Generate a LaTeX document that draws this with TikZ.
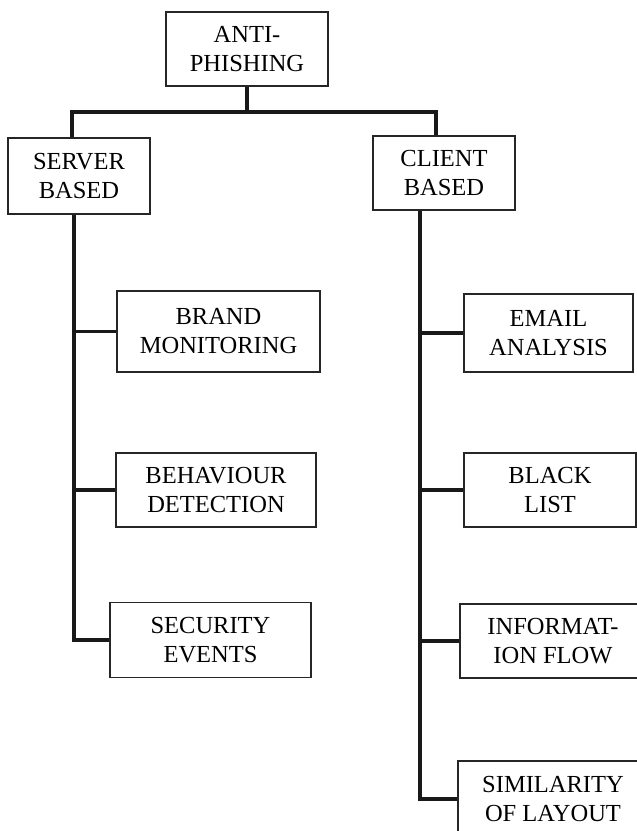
\documentclass[tikz,border=0pt]{standalone}
\usepackage{fontspec}
\setmainfont{Liberation Serif}
\tikzset{
  catbox/.style={draw=black!85, line width=1.6pt, align=center, inner sep=0pt,
    font=\fontsize{24.5}{29}\selectfont},
  link/.style={line width=3.6pt, black!90}
}
\begin{document}
\begin{tikzpicture}[x=1pt,y=-1pt]

    \useasboundingbox (0,0) rectangle (637,831);
    \clip (0,0) rectangle (637,831);

    \node[catbox, minimum width=162pt, minimum height=74pt] (anti) at (247,49) {ANTI-\\PHISHING};
    \node[catbox, minimum width=142pt, minimum height=76pt] (server) at (79,176) {SERVER\\BASED};
    \node[catbox, minimum width=142pt, minimum height=74pt] (client) at (444,173) {CLIENT\\BASED};

    \node[catbox, minimum width=203pt, minimum height=81pt] (brand) at (218.5,331.5) {BRAND\\MONITORING};
    \node[catbox, minimum width=200pt, minimum height=74pt] (behav) at (216,490) {BEHAVIOUR\\DETECTION};
    \node[catbox, minimum width=201pt, minimum height=75pt] (secur) at (210.5,640) {SECURITY\\EVENTS};

    \node[catbox, minimum width=169pt, minimum height=78pt] (email) at (548.5,333) {EMAIL\\ANALYSIS};
    \node[catbox, minimum width=172pt, minimum height=74pt] (black) at (550,490) {BLACK\\LIST};
    \node[catbox, minimum width=186pt, minimum height=74pt] (inform) at (553,641) {INFORMAT-\\ION FLOW};
    \node[catbox, minimum width=190pt, minimum height=76pt] (simil) at (553,799) {SIMILARITY\\OF LAYOUT};

    \coordinate (barL) at (72,112);
    \coordinate (barR) at (436,112);
    \coordinate (spineS) at (74,0);
    \coordinate (spineC) at (420,0);

    \draw[link] (anti.south) -- (anti.south |- barL);
    \draw[link] (barL |- server.north) -- (barL) -- (barR) -- (barR |- client.north);

    \draw[link] (spineS |- server.south) |- (secur.west);
    \draw[link] (spineS |- brand.west) -- (brand.west);
    \draw[link] (spineS |- behav.west) -- (behav.west);

    \draw[link] (spineC |- client.south) |- (simil.west);
    \draw[link] (spineC |- email.west) -- (email.west);
    \draw[link] (spineC |- black.west) -- (black.west);
    \draw[link] (spineC |- inform.west) -- (inform.west);

\end{tikzpicture}
\end{document}
